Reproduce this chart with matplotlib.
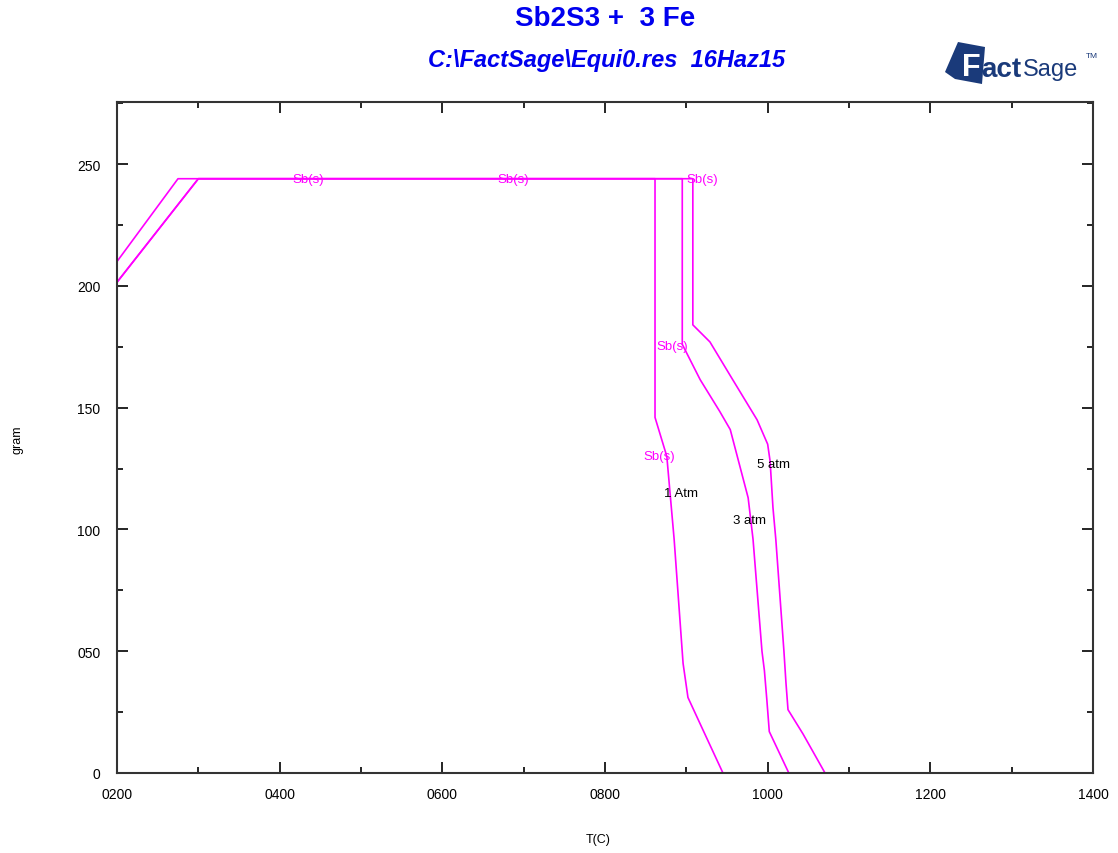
import matplotlib
matplotlib.use("Agg")
import matplotlib.pyplot as plt
from matplotlib.ticker import FixedLocator
from matplotlib.patches import Polygon

# Data (T in C, mass in gram)
t_1atm = [200, 275, 861.5, 861.5, 876, 885, 896, 902, 920, 945]
g_1atm = [210, 244, 244, 146, 130, 96, 45, 31, 18, 0]

t_3atm = [200, 300, 895, 895, 917, 941, 954, 976, 982, 993, 996, 999, 1002, 1026]
g_3atm = [201.5, 244, 244, 176, 161.5, 148.5, 141, 113, 96, 50, 42, 30, 17, 0]

t_5atm = [200, 300, 908, 908, 929, 957, 987, 1000, 1003, 1006.5, 1010, 1020, 1022.5, 1025, 1043.5, 1070.5]
g_5atm = [201.5, 244, 244, 184, 177, 161.5, 145, 135, 128, 109, 96, 50, 37, 26, 16, 0]

phase_labels = ["Sb(s)", "Sb(s)", "Sb(s)", "Sb(s)", "Sb(s)"]
phase_t = [435, 687, 920, 883, 867]
phase_g = [244, 244, 244, 175.5, 130]

curve_labels = ["1 Atm", "3 atm", "5 atm"]
curve_t = [893, 978, 1007]
curve_g = [115, 104, 127]

xticks = [200, 400, 600, 800, 1000, 1200, 1400]
xtick_labels = ["0200", "0400", "0600", "0800", "1000", "1200", "1400"]
yticks = [0, 50, 100, 150, 200, 250]
ytick_labels = ["0", "050", "100", "150", "200", "250"]

fig = plt.figure(figsize=(11.18, 8.54), dpi=100)
ax = fig.add_axes([117/1118, 1 - 774/854, (1093-117)/1118, (774-103)/854])

mag = "#ff00ff"
for t, g in [(t_1atm, g_1atm), (t_3atm, g_3atm), (t_5atm, g_5atm)]:
    ax.plot(t, g, color=mag, lw=1.2)

for lab, t, g in zip(phase_labels, phase_t, phase_g):
    ax.text(t, g, lab, color=mag, fontsize=9.5, ha="center", va="center",
            family="Liberation Sans")
for lab, t, g in zip(curve_labels, curve_t, curve_g):
    ax.text(t, g, lab, color="black", fontsize=9.5, ha="center", va="center",
            family="Liberation Sans")

ax.set_xlim(200, 1400)
ax.set_ylim(0, 275.5)
ax.xaxis.set_major_locator(FixedLocator(xticks))
ax.set_xticklabels(xtick_labels)
ax.yaxis.set_major_locator(FixedLocator(yticks))
ax.set_yticklabels(ytick_labels)
ax.xaxis.set_minor_locator(FixedLocator([300, 500, 700, 900, 1100, 1300]))
ax.yaxis.set_minor_locator(FixedLocator([25, 75, 125, 175, 225, 275]))
ax.tick_params(which="both", direction="in", top=True, right=True,
               labelsize=10, width=1.2, colors="black")
ax.tick_params(which="major", length=8)
ax.tick_params(which="minor", length=4)
ax.tick_params(axis="x", pad=10)
ax.tick_params(axis="y", pad=12)
for lbl in ax.get_xticklabels() + ax.get_yticklabels():
    lbl.set_family("Liberation Sans")
for s in ax.spines.values():
    s.set_linewidth(1.5)
    s.set_color("#333333")

fig.text(18/1118, 1 - 440/854, "gram", rotation=90, fontsize=9, ha="center",
         va="center", family="Liberation Sans")
fig.text(598/1118, 1 - 840/854, "T(C)", fontsize=9, ha="center", va="center",
         family="Liberation Sans")

fig.text(605/1118, 1 - 19/854, "Sb2S3 +  3 Fe", color="#0000ee", fontsize=20,
         fontweight="bold", ha="center", va="center", family="Liberation Sans")
fig.text(607/1118, 1 - 61/854, "C:\\FactSage\\Equi0.res  16Haz15", color="#0000ee",
         fontsize=17, style="italic", fontweight="bold", ha="center", va="center",
         family="Liberation Sans")

# FactSage logo
navy = "#1a3a7a"
logo = Polygon([[945/1118, 1 - 73/854], [958/1118, 1 - 43/854], [985/1118, 1 - 48/854],
                [982/1118, 1 - 85/854], [955/1118, 1 - 80/854]],
               closed=True, transform=fig.transFigure, facecolor=navy, edgecolor="none")
fig.patches.append(logo)
fig.text(962/1118, 1 - 68/854, "F", color="white", fontsize=22, fontweight="bold",
         ha="left", va="center", family="Liberation Sans")
fig.text(981/1118, 1 - 70/854, "act", color=navy, fontsize=20, fontweight="bold",
         ha="left", va="center", family="Liberation Sans")
fig.text(1023/1118, 1 - 70/854, "Sage", color=navy, fontsize=17, ha="left",
         va="center", family="Liberation Sans")
fig.text(1086/1118, 1 - 56/854, "TM", color=navy, fontsize=6, ha="left",
         va="center", family="Liberation Sans")

fig.savefig("out.png", dpi=100)
